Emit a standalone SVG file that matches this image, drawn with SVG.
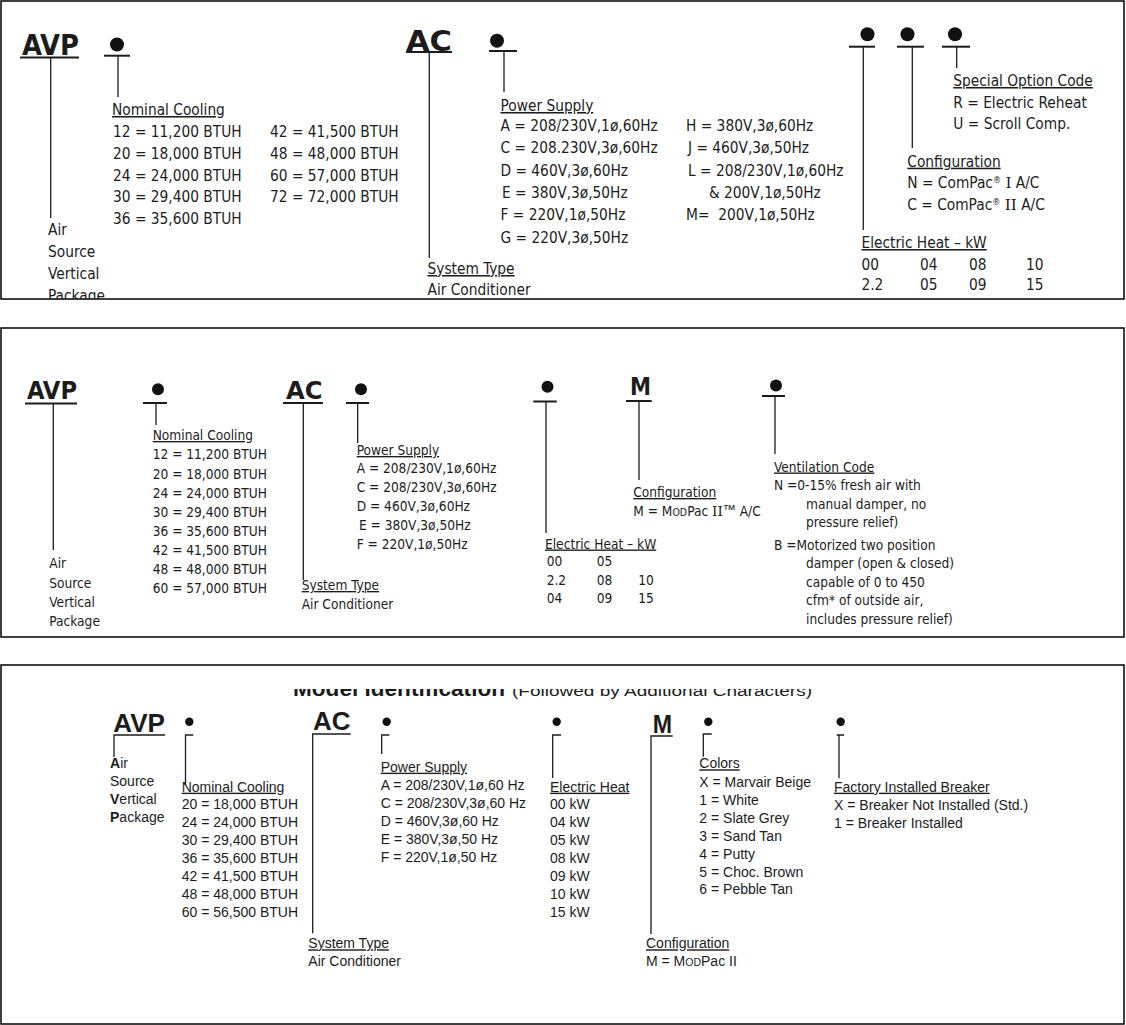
<svg xmlns="http://www.w3.org/2000/svg" width="1126" height="1025" viewBox="0 0 1126 1025">
<style>
.t1{font-family:'DejaVu Sans Condensed','DejaVu Sans',sans-serif;font-size:15.3px;fill:#1c1c1c}
.t2{font-family:'DejaVu Sans Condensed','DejaVu Sans',sans-serif;font-size:13.6px;fill:#1c1c1c}
.t3{font-family:'Liberation Sans',Arial,sans-serif;font-size:14px;fill:#1c1c1c}
.bd{font-family:'DejaVu Sans Condensed','DejaVu Sans',sans-serif;font-weight:bold;fill:#1c1c1c}
.bh{font-family:'Liberation Sans',Arial,sans-serif;font-weight:bold;fill:#1c1c1c}
.u{text-decoration:underline}
.sr{font-family:'DejaVu Serif','Liberation Serif',serif}
.ln{stroke:#1c1c1c;stroke-width:1.3;fill:none}
.ul{stroke:#1c1c1c;stroke-width:2;fill:none}
.dot{fill:#111}
.frame{fill:#fff;stroke:#000;stroke-width:1.5}
</style>
<defs>
<clipPath id="c1"><rect x="0" y="0" width="1126" height="299"/></clipPath>
<clipPath id="ctitle"><rect x="0" y="689" width="1126" height="18"/></clipPath>
</defs>
<rect width="1126" height="1025" fill="#fff"/>
<rect class="frame" x="1" y="1" width="1123" height="298"/>
<rect class="frame" x="1" y="328" width="1123" height="309"/>
<rect class="frame" x="1" y="665" width="1123" height="359"/>

<!-- ===== Panel 1 ===== -->
<g id="panel1" clip-path="url(#c1)">
<g id="p1-avp">
<text class="bd" x="22" y="55" font-size="29" textLength="57" lengthAdjust="spacingAndGlyphs">AVP</text>
<text class="t1" x="48" y="235">Air</text>
<text class="t1" x="48" y="257">Source</text>
<text class="t1" x="48" y="279">Vertical</text>
<text class="t1" x="48" y="301">Package</text>
</g>
<g id="p1-cooling">
<circle class="dot" cx="117" cy="44.5" r="7"/>
<text class="t1 u" x="112" y="115">Nominal Cooling</text>
<text class="t1" x="113" y="137.3">12 = 11,200 BTUH</text>
<text class="t1" x="113" y="158.9">20 = 18,000 BTUH</text>
<text class="t1" x="113" y="180.5">24 = 24,000 BTUH</text>
<text class="t1" x="113" y="202.1">30 = 29,400 BTUH</text>
<text class="t1" x="113" y="223.7">36 = 35,600 BTUH</text>
<text class="t1" x="270" y="137.3">42 = 41,500 BTUH</text>
<text class="t1" x="270" y="158.9">48 = 48,000 BTUH</text>
<text class="t1" x="270" y="180.5">60 = 57,000 BTUH</text>
<text class="t1" x="270" y="202.1">72 = 72,000 BTUH</text>
</g>
<g id="p1-system">
<text class="bd" x="406" y="51" font-size="29" textLength="46" lengthAdjust="spacingAndGlyphs">AC</text>
<text class="t1 u" x="427.5" y="274">System Type</text>
<text class="t1" x="427.5" y="295">Air Conditioner</text>
</g>
<g id="p1-power">
<circle class="dot" cx="497" cy="40.7" r="7"/>
<text class="t1 u" x="500.5" y="111">Power Supply</text>
<text class="t1" x="500.5" y="131">A = 208/230V,1ø,60Hz</text>
<text class="t1" x="500.5" y="153.3">C = 208.230V,3ø,60Hz</text>
<text class="t1" x="500.5" y="175.6">D = 460V,3ø,60Hz</text>
<text class="t1" x="502" y="197.9">E = 380V,3ø,50Hz</text>
<text class="t1" x="500.5" y="220.2">F = 220V,1ø,50Hz</text>
<text class="t1" x="500.5" y="242.5">G = 220V,3ø,50Hz</text>
<text class="t1" x="686" y="131">H = 380V,3ø,60Hz</text>
<text class="t1" x="688" y="153.3">J = 460V,3ø,50Hz</text>
<text class="t1" x="688" y="175.6">L = 208/230V,1ø,60Hz</text>
<text class="t1" x="709" y="197.9">&amp; 200V,1ø,50Hz</text>
<text class="t1" x="686" y="220.2">M=&#160; 200V,1ø,50Hz</text>
</g>
<g id="p1-heat">
<circle class="dot" cx="867.5" cy="34.3" r="7"/>
<text class="t1 u" x="861.5" y="248">Electric Heat – kW</text>
<text class="t1" x="861.5" y="269.5">00</text>
<text class="t1" x="920" y="269.5">04</text>
<text class="t1" x="969" y="269.5">08</text>
<text class="t1" x="1026" y="269.5">10</text>
<text class="t1" x="861.5" y="290">2.2</text>
<text class="t1" x="920" y="290">05</text>
<text class="t1" x="969" y="290">09</text>
<text class="t1" x="1026" y="290">15</text>
</g>
<g id="p1-config">
<circle class="dot" cx="907.5" cy="34.3" r="7"/>
<text class="t1 u" x="907.3" y="166.7">Configuration</text>
<text class="t1" x="907.3" y="188">N = ComPac<tspan font-size="9" dy="-5">®</tspan><tspan dy="5"> </tspan><tspan class="sr">I</tspan> A/C</text>
<text class="t1" x="907.3" y="210">C = ComPac<tspan font-size="9" dy="-5">®</tspan><tspan dy="5"> </tspan><tspan class="sr">II</tspan> A/C</text>
</g>
<g id="p1-option">
<circle class="dot" cx="955" cy="34.3" r="7"/>
<text class="t1 u" x="953.3" y="86">Special Option Code</text>
<text class="t1" x="953.3" y="107.5">R = Electric Reheat</text>
<text class="t1" x="953.3" y="129">U = Scroll Comp.</text>
</g>
<g id="p1-connectors">
<line class="ul" x1="20" y1="57.5" x2="79" y2="57.5"/>
<line class="ln" x1="50.7" y1="57.5" x2="50.7" y2="218"/>
<line class="ul" x1="104" y1="55.7" x2="130" y2="55.7"/>
<line class="ln" x1="118" y1="55.7" x2="118" y2="97"/>
<line class="ul" x1="406" y1="52" x2="452" y2="52"/>
<line class="ln" x1="429.3" y1="52" x2="429.3" y2="258"/>
<line class="ul" x1="489" y1="51" x2="517" y2="51"/>
<line class="ln" x1="504" y1="51" x2="504" y2="92"/>
<line class="ul" x1="849" y1="46.7" x2="875" y2="46.7"/>
<line class="ln" x1="863.3" y1="46.7" x2="863.3" y2="230"/>
<line class="ul" x1="897" y1="46.7" x2="924" y2="46.7"/>
<line class="ln" x1="912.3" y1="46.7" x2="912.3" y2="148"/>
<line class="ul" x1="942" y1="46.7" x2="970" y2="46.7"/>
<line class="ln" x1="956.7" y1="46.7" x2="956.7" y2="68"/>
</g>
</g>

<!-- ===== Panel 2 ===== -->
<g id="panel2">
<g id="p2-avp">
<text class="bd" x="27" y="399" font-size="25" textLength="50" lengthAdjust="spacingAndGlyphs">AVP</text>
<text class="t2" x="49.3" y="568.3">Air</text>
<text class="t2" x="49.3" y="587.5">Source</text>
<text class="t2" x="49.3" y="606.5">Vertical</text>
<text class="t2" x="49.3" y="625.5">Package</text>
</g>
<g id="p2-cooling">
<circle class="dot" cx="158" cy="389.3" r="6"/>
<text class="t2 u" x="152.7" y="440">Nominal Cooling</text>
<text class="t2" x="152.7" y="459.3">12 = 11,200 BTUH</text>
<text class="t2" x="152.7" y="478.5">20 = 18,000 BTUH</text>
<text class="t2" x="152.7" y="497.6">24 = 24,000 BTUH</text>
<text class="t2" x="152.7" y="516.8">30 = 29,400 BTUH</text>
<text class="t2" x="152.7" y="535.9">36 = 35,600 BTUH</text>
<text class="t2" x="152.7" y="555.1">42 = 41,500 BTUH</text>
<text class="t2" x="152.7" y="574.2">48 = 48,000 BTUH</text>
<text class="t2" x="152.7" y="593.4">60 = 57,000 BTUH</text>
</g>
<g id="p2-system">
<text class="bd" x="286" y="399" font-size="25" textLength="36.5" lengthAdjust="spacingAndGlyphs">AC</text>
<text class="t2 u" x="301.7" y="590">System Type</text>
<text class="t2" x="301.7" y="608.5">Air Conditioner</text>
</g>
<g id="p2-power">
<circle class="dot" cx="361" cy="389.3" r="6"/>
<text class="t2 u" x="356.7" y="455">Power Supply</text>
<text class="t2" x="356.7" y="473.3">A = 208/230V,1ø,60Hz</text>
<text class="t2" x="356.7" y="492">C = 208/230V,3ø,60Hz</text>
<text class="t2" x="356.7" y="511">D = 460V,3ø,60Hz</text>
<text class="t2" x="359" y="530">E = 380V,3ø,50Hz</text>
<text class="t2" x="356.7" y="548.5">F = 220V,1ø,50Hz</text>
</g>
<g id="p2-heat">
<circle class="dot" cx="547.5" cy="386.7" r="6"/>
<text class="t2 u" x="545" y="548.5">Electric Heat – kW</text>
<text class="t2" x="546.7" y="566">00</text>
<text class="t2" x="596.7" y="566">05</text>
<text class="t2" x="546.7" y="584.5">2.2</text>
<text class="t2" x="596.7" y="584.5">08</text>
<text class="t2" x="638.3" y="584.5">10</text>
<text class="t2" x="546.7" y="603">04</text>
<text class="t2" x="596.7" y="603">09</text>
<text class="t2" x="638.3" y="603">15</text>
</g>
<g id="p2-config">
<text class="bd" x="630" y="395" font-size="25" textLength="21" lengthAdjust="spacingAndGlyphs">M</text>
<text class="t2 u" x="633.3" y="497">Configuration</text>
<text class="t2" x="633.3" y="515.5">M = M<tspan font-size="10.5">OD</tspan>Pac <tspan class="sr">II</tspan><tspan font-family="Liberation Sans, sans-serif" font-size="13" dy="-2">™</tspan><tspan dy="2"> A/C</tspan></text>
</g>
<g id="p2-vent">
<circle class="dot" cx="776" cy="385.5" r="6"/>
<text class="t2 u" x="774" y="471.5">Ventilation Code</text>
<text class="t2" x="774" y="490">N =0-15% fresh air with</text>
<text class="t2" x="806" y="508.5">manual damper, no</text>
<text class="t2" x="806" y="527">pressure relief)</text>
<text class="t2" x="774" y="549.5">B =Motorized two position</text>
<text class="t2" x="806" y="568">damper (open &amp; closed)</text>
<text class="t2" x="806" y="586.5">capable of 0 to 450</text>
<text class="t2" x="806" y="605">cfm* of outside air,</text>
<text class="t2" x="806" y="623.5">includes pressure relief)</text>
</g>
<g id="p2-connectors">
<line class="ul" x1="25" y1="403.5" x2="77" y2="403.5"/>
<line class="ln" x1="53.3" y1="403.5" x2="53.3" y2="550"/>
<line class="ul" x1="143" y1="403" x2="167" y2="403"/>
<line class="ln" x1="156" y1="403" x2="156" y2="425"/>
<line class="ul" x1="283" y1="403" x2="323" y2="403"/>
<line class="ln" x1="303.3" y1="403" x2="303.3" y2="580"/>
<line class="ul" x1="346" y1="403" x2="369" y2="403"/>
<line class="ln" x1="357.7" y1="403" x2="357.7" y2="443"/>
<line class="ul" x1="533.3" y1="401.5" x2="556.7" y2="401.5"/>
<line class="ln" x1="546" y1="401.5" x2="546" y2="533"/>
<line class="ul" x1="626" y1="401" x2="651.7" y2="401"/>
<line class="ln" x1="639" y1="401" x2="639" y2="480"/>
<line class="ul" x1="762" y1="396" x2="785" y2="396"/>
<line class="ln" x1="775" y1="396" x2="775" y2="454"/>
</g>
</g>

<!-- ===== Panel 3 ===== -->
<g id="panel3">
<g id="p3-title" clip-path="url(#ctitle)">
<text class="bh" x="293" y="696" font-size="22" textLength="212" lengthAdjust="spacingAndGlyphs">Model Identification</text>
<text class="t3" x="512" y="696" font-size="19" textLength="300" lengthAdjust="spacingAndGlyphs">(Followed by Additional Characters)</text>
</g>
<g id="p3-avp">
<text class="bh" x="113.3" y="731.7" font-size="25.5" textLength="51.7" lengthAdjust="spacingAndGlyphs">AVP</text>
<text class="t3" x="110" y="768.3"><tspan font-weight="bold">A</tspan>ir</text>
<text class="t3" x="110" y="786.3">Source</text>
<text class="t3" x="110" y="804.3"><tspan font-weight="bold">V</tspan>ertical</text>
<text class="t3" x="110" y="822.3"><tspan font-weight="bold">P</tspan>ackage</text>
</g>
<g id="p3-cooling">
<circle class="dot" cx="189.3" cy="721.7" r="4.2"/>
<text class="t3 u" x="181.7" y="791.7">Nominal Cooling</text>
<text class="t3" x="181.7" y="809">20 = 18,000 BTUH</text>
<text class="t3" x="181.7" y="827">24 = 24,000 BTUH</text>
<text class="t3" x="181.7" y="845">30 = 29,400 BTUH</text>
<text class="t3" x="181.7" y="863">36 = 35,600 BTUH</text>
<text class="t3" x="181.7" y="881">42 = 41,500 BTUH</text>
<text class="t3" x="181.7" y="899">48 = 48,000 BTUH</text>
<text class="t3" x="181.7" y="917">60 = 56,500 BTUH</text>
</g>
<g id="p3-system">
<text class="bh" x="313" y="730" font-size="25.5" textLength="37.5" lengthAdjust="spacingAndGlyphs">AC</text>
<text class="t3 u" x="308.3" y="948.3">System Type</text>
<text class="t3" x="308.3" y="966">Air Conditioner</text>
</g>
<g id="p3-power">
<circle class="dot" cx="386.7" cy="721.7" r="4.2"/>
<text class="t3 u" x="380.7" y="771.7">Power Supply</text>
<text class="t3" x="380.7" y="790">A = 208/230V,1ø,60 Hz</text>
<text class="t3" x="380.7" y="808">C = 208/230V,3ø,60 Hz</text>
<text class="t3" x="380.7" y="826">D = 460V,3ø,60 Hz</text>
<text class="t3" x="380.7" y="844">E = 380V,3ø,50 Hz</text>
<text class="t3" x="380.7" y="862">F = 220V,1ø,50 Hz</text>
</g>
<g id="p3-heat">
<circle class="dot" cx="556.7" cy="721.7" r="4.2"/>
<text class="t3 u" x="550" y="791.7">Electric Heat</text>
<text class="t3" x="550" y="809">00 kW</text>
<text class="t3" x="550" y="827">04 kW</text>
<text class="t3" x="550" y="845">05 kW</text>
<text class="t3" x="550" y="863">08 kW</text>
<text class="t3" x="550" y="881">09 kW</text>
<text class="t3" x="550" y="899">10 kW</text>
<text class="t3" x="550" y="917">15 kW</text>
</g>
<g id="p3-config">
<text class="bh" x="652.7" y="732.7" font-size="25.5" textLength="19.3" lengthAdjust="spacingAndGlyphs">M</text>
<text class="t3 u" x="646" y="948.3">Configuration</text>
<text class="t3" x="646" y="966">M = M<tspan font-size="10.5">OD</tspan>Pac II</text>
</g>
<g id="p3-colors">
<circle class="dot" cx="708.3" cy="721.7" r="4.2"/>
<text class="t3 u" x="699.3" y="768.3">Colors</text>
<text class="t3" x="699.3" y="786.5">X = Marvair Beige</text>
<text class="t3" x="699.3" y="804.5">1 = White</text>
<text class="t3" x="699.3" y="822.5">2 = Slate Grey</text>
<text class="t3" x="699.3" y="840.5">3 = Sand Tan</text>
<text class="t3" x="699.3" y="858.5">4 = Putty</text>
<text class="t3" x="699.3" y="876.5">5 = Choc. Brown</text>
<text class="t3" x="699.3" y="894.3">6 = Pebble Tan</text>
</g>
<g id="p3-breaker">
<circle class="dot" cx="840.7" cy="721.7" r="4.2"/>
<text class="t3 u" x="834" y="791.7">Factory Installed Breaker</text>
<text class="t3" x="834" y="810">X = Breaker Not Installed (Std.)</text>
<text class="t3" x="834" y="827.7">1 = Breaker Installed</text>
</g>
<g id="p3-connectors">
<path class="ln" d="M165,735 H114 V757"/>
<path class="ln" d="M193.3,735 H185.5 V785"/>
<path class="ln" d="M350.7,734 H312.7 V933.3"/>
<path class="ln" d="M389.3,735 H381.7 V754"/>
<path class="ln" d="M561,735 H552.7 V778"/>
<path class="ln" d="M672.7,736 H651 V934"/>
<path class="ln" d="M711.7,734 H703.3 V756.7"/>
<path class="ln" d="M844,735 H836.7 M839,735 V778.3"/>
</g>
</g>
</svg>
